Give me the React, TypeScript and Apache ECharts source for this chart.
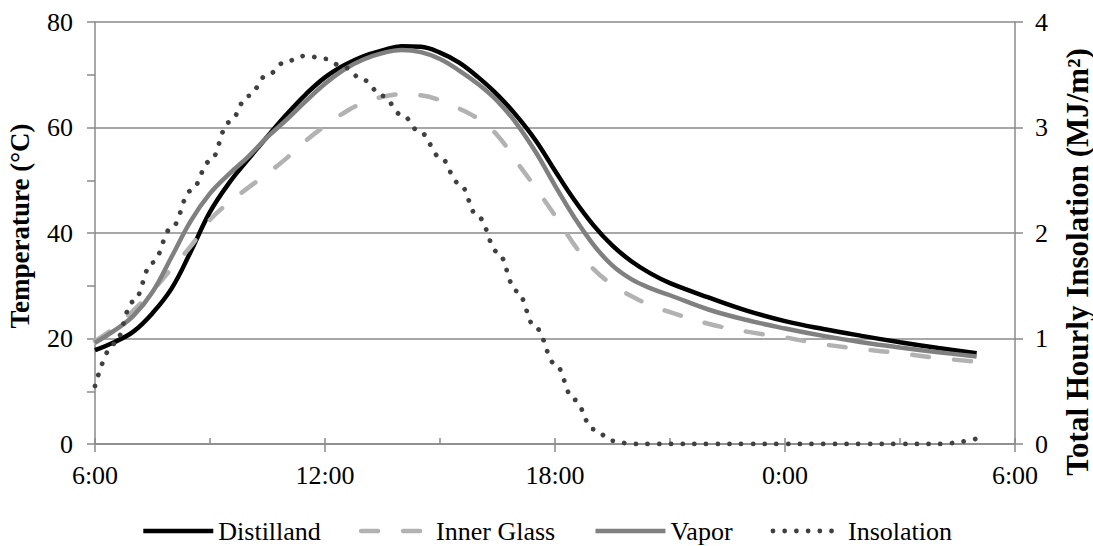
import React, { useEffect, useRef } from "react";
import * as echarts from "echarts";

const hours = [
  6, 6.5, 7, 7.5, 8, 8.5, 9, 9.5, 10, 10.5, 11, 11.5, 12, 12.5, 13, 13.5, 14, 14.5, 15, 15.5,
  16, 16.5, 17, 17.5, 18, 18.5, 19, 19.5, 20, 20.5, 21, 22, 23, 24, 25, 26, 27, 28, 29,
];
const distilland = [
  17.8, 19.3, 21.3, 24.8, 29.5, 36.5, 44, 49.5, 54, 58.3, 62.5, 66.3, 69.5, 71.8, 73.5, 74.6, 75.4, 75.3, 74.2, 72.3,
  69.5, 66.2, 62.2, 57.5, 51.8, 46.3, 41.5, 37.6, 34.6, 32.3, 30.5, 27.8, 25.3, 23.3, 21.8, 20.5, 19.3, 18.2, 17.2,
];
const innerGlass = [
  19.5, 22, 25.3, 29, 33.3, 37.5, 42.5, 45.8, 48.6, 51.3, 54.2, 57.5, 60.3, 62.8, 64.7, 65.8, 66.3, 66.1, 65.2, 63.6,
  61.6, 58.5, 53.5, 48.5, 43.3, 37.8, 33.2, 30.2, 28, 26.3, 25, 22.8, 21.3, 20.2, 18.9, 18, 17.2, 16.3, 15.6,
];
const vapor = [
  19.2, 21.5, 24.3, 28.8, 35.5, 42.3, 47.5, 51.2, 54.5, 58.2, 61.5, 65, 68.3, 71, 72.9, 74.1, 74.7, 74.3, 73, 70.8,
  68.2, 65, 60.7, 55.3, 49, 43, 37.8, 33.8, 31.2, 29.5, 28.2, 25.5, 23.5, 21.9, 20.5, 19.3, 18.3, 17.4, 16.6,
];
const insolation = [
  0.55, 0.95, 1.35, 1.72, 2.05, 2.4, 2.68, 3.05, 3.3, 3.5, 3.63, 3.68, 3.65, 3.57, 3.45, 3.3, 3.12, 2.95, 2.72, 2.47,
  2.15, 1.82, 1.45, 1.1, 0.76, 0.42, 0.14, 0.03, 0, 0, 0, 0, 0, 0, 0, 0, 0, 0, 0.05,
];

const seriesNames = ["Distilland", "Inner Glass", "Vapor", "Insolation"];
const leftTitle = "Temperature (°C)";
const rightTitle = "Total Hourly Insolation (MJ/m²)";

const FONT = "Liberation Serif";
const AXIS_COLOR = "#8a8a8a";

const lineStyles: any[] = [
  { color: "#000000", width: 4.5 },
  { color: "#b2b2b2", width: 4.5, type: [17, 25], cap: "round" },
  { color: "#808080", width: 4.5 },
  { color: "#404040", width: 4.8, type: [0.01, 11.7], cap: "round" },
];

function pairs(vals: number[]) {
  return hours.map((h, i) => [h, vals[i]]);
}

export default function App() {
  const ref = useRef<HTMLDivElement>(null);
  useEffect(() => {
    if (!ref.current) return;
    const chart = echarts.init(ref.current, null, { renderer: "svg" });
    const seriesValues = [distilland, innerGlass, vapor, insolation];
    const option: any = {
      animation: false,
      backgroundColor: "#ffffff",
      textStyle: { fontFamily: FONT, color: "#000" },
      grid: { left: 95, right: 78, top: 22, bottom: 102, containLabel: false },
      legend: {
        top: 513,
        left: "center",
        itemWidth: 70,
        itemHeight: 14,
        itemGap: 38,
        itemStyle: { opacity: 0, borderWidth: 0, color: "transparent" },
        textStyle: { fontFamily: FONT, fontSize: 26, color: "#000" },
        data: seriesNames.map((n, i) => ({
          name: n,
          itemStyle: { opacity: 0, borderWidth: 0, color: "transparent" },
          lineStyle: { ...lineStyles[i] },
        })),
      },
      xAxis: [
        {
          type: "value",
          min: 6,
          max: 30,
          interval: 6,
          axisLine: { show: true, lineStyle: { color: AXIS_COLOR, width: 1.5 } },
          axisTick: { show: true, length: 8, lineStyle: { color: AXIS_COLOR, width: 1.5 } },
          axisLabel: {
            fontFamily: FONT,
            fontSize: 26,
            color: "#000",
            margin: 18,
            formatter: (v: number) => `${v % 24}:00`,
          },
          splitLine: { show: false },
        },
        {
          type: "value",
          min: 6,
          max: 30,
          interval: 3,
          position: "bottom",
          offset: 0,
          axisLine: { show: false },
          axisTick: { show: true, inside: true, length: 6, lineStyle: { color: AXIS_COLOR, width: 1.5 } },
          axisLabel: { show: false },
          splitLine: { show: false },
        },
      ],
      yAxis: [
        {
          type: "value",
          min: 0,
          max: 80,
          interval: 20,
          position: "left",
          axisLine: { show: true, lineStyle: { color: AXIS_COLOR, width: 1.5 } },
          axisTick: { show: true, length: 8, lineStyle: { color: AXIS_COLOR, width: 1.5 } },
          minorTick: { show: true, splitNumber: 2, length: 8, lineStyle: { color: AXIS_COLOR, width: 1.5 } },
          axisLabel: { fontFamily: FONT, fontSize: 26, color: "#000", margin: 22 },
          splitLine: { show: true, lineStyle: { color: AXIS_COLOR, width: 1.5 } },
        },
        {
          type: "value",
          min: 0,
          max: 4,
          interval: 1,
          position: "right",
          axisLine: { show: true, lineStyle: { color: AXIS_COLOR, width: 1.5 } },
          axisTick: { show: true, length: 8, lineStyle: { color: AXIS_COLOR, width: 1.5 } },
          axisLabel: { fontFamily: FONT, fontSize: 26, color: "#000", margin: 20 },
          splitLine: { show: false },
        },
      ],
      graphic: [
        {
          type: "text",
          x: 20,
          y: 226,
          rotation: Math.PI / 2,
          style: {
            text: leftTitle,
            fontFamily: FONT,
            fontSize: 27,
            fontWeight: "bold",
            fill: "#000",
            textAlign: "center",
            textVerticalAlign: "middle",
          },
        },
        {
          type: "text",
          x: 1077,
          y: 262,
          rotation: Math.PI / 2,
          style: {
            text: rightTitle,
            fontFamily: FONT,
            fontSize: 31,
            fontWeight: "bold",
            fill: "#000",
            textAlign: "center",
            textVerticalAlign: "middle",
          },
        },
      ],
      series: seriesNames.map((n, i) => ({
        name: n,
        type: "line",
        xAxisIndex: 0,
        yAxisIndex: i === 3 ? 1 : 0,
        data: pairs(seriesValues[i]),
        smooth: 0.4,
        smoothMonotone: i === 3 ? "x" : undefined,
        symbol: "none",
        lineStyle: lineStyles[i],
        itemStyle: { color: lineStyles[i].color },
      })),
    };
    chart.setOption(option);
    return () => chart.dispose();
  }, []);
  return (
    <div
      ref={ref}
      style={{ position: "fixed", left: 0, top: 0, width: 1093, height: 546, background: "#fff" }}
    />
  );
}
